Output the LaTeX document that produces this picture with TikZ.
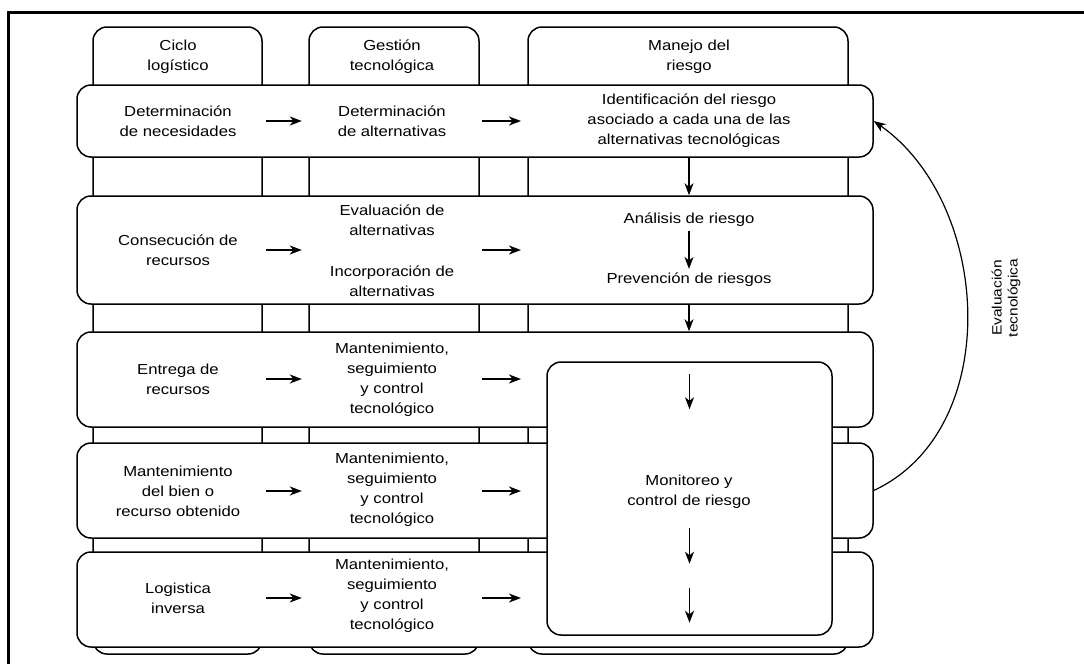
\documentclass[tikz,border=0pt]{standalone}
\usepackage{fontspec}
\setmainfont{Liberation Sans}[FakeStretch=1.15]
\usetikzlibrary{arrows.meta}
\tikzset{>={Stealth[length=12pt,width=9pt,inset=3.5pt]}}
\tikzset{
	colbox/.style={draw, line width=1.5pt, rounded corners=14pt, fill=white, inner sep=0pt},
	rowbox/.style={draw, line width=1.5pt, rounded corners=14pt, fill=white, inner sep=0pt},
	lbl/.style={align=center, inner sep=0pt, font=\fontsize{14.5}{20}\selectfont},
	flow/.style={->, line width=1.5pt}
}
\newcommand{\mant}{Mantenimiento,\\seguimiento\\y control\\tecnológico}

\begin{document}
\begin{tikzpicture}[x=1pt, y=-1pt]
	\useasboundingbox (0,0) rectangle (1084,664);
	\draw[line width=3pt] (1084,12) -- (8,12) -- (8,664);
	\node[colbox, minimum width=169, minimum height=627] (col1) at (177.5,340.5) {};
	\node[colbox, minimum width=170, minimum height=627] (col2) at (394,340.5) {};
	\node[colbox, minimum width=320, minimum height=627] (col3) at (688,340.5) {};
	\node[lbl] (h1) at (178,57) {Ciclo\\logístico};
	\node[lbl] (h2) at (392,57) {Gestión\\tecnológica};
	\node[lbl] (h3) at (689,57) {Manejo del\\riesgo};
	\node[rowbox, minimum width=796, minimum height=72] (row1) at (475,121) {};
	\node[rowbox, minimum width=796, minimum height=108] (row2) at (475,250) {};
	\node[rowbox, minimum width=796, minimum height=95] (row3) at (475,379.5) {};
	\node[rowbox, minimum width=796, minimum height=95] (row4) at (475,490.5) {};
	\node[rowbox, minimum width=796, minimum height=95] (row5) at (475,599.5) {};
	\node[colbox, minimum width=285, minimum height=273] (mon) at (689.5,498.5) {};
	\node[lbl, minimum width=176] (a1) at (178,121) {Determinación\\de necesidades};
	\node[lbl, minimum width=176] (a2) at (178,250) {Consecución de\\recursos};
	\node[lbl, minimum width=176] (a3) at (178,379) {Entrega de\\recursos};
	\node[lbl, minimum width=176] (a4) at (178,491) {Mantenimiento\\del bien o\\recurso obtenido};
	\node[lbl, minimum width=176] (a5) at (178,598) {Logistica\\inversa};
	\node[lbl, minimum width=180] (b1) at (392,121) {Determinación\\de alternativas};
	\node[lbl, minimum width=180] (b2) at (392,251) {Evaluación de\\alternativas\\[21pt]Incorporación de\\alternativas};
	\node[lbl, minimum width=180] (b3) at (392,380) {\mant};
	\node[lbl, minimum width=180] (b4) at (392,490) {\mant};
	\node[lbl, minimum width=180] (b5) at (392,596) {\mant};
	\node[lbl] (id) at (689,121) {Identificación del riesgo\\asociado a cada una de las\\alternativas tecnológicas};
	\node[lbl] (an) at (689,220) {Análisis de riesgo};
	\node[lbl] (pr) at (689,280) {Prevención de riesgos};
	\node[lbl] (mt) at (689,492) {Monitoreo y\\control de riesgo};
	\foreach \i in {1,...,5}{
		\draw[flow] (a\i.east) -- (a\i.east -| b\i.west);
		\coordinate (e\i) at (521,0 |- a\i.east);
		\draw[flow] (a\i.east -| b\i.east) -- (e\i);
	}
	\draw[flow] (row1.south -| id) -- (row2.north -| id);
	\draw[flow] ([yshift=-4pt]an.south) -- ([yshift=4pt]pr.north);
	\draw[flow] (row2.south -| id) -- (row3.north -| id);
	\draw[flow] ([yshift=-13pt]mon.north) -- ([yshift=-48pt]mon.north);
	\draw[flow] ([yshift=108pt]mon.south) -- ([yshift=72pt]mon.south);
	\draw[flow] ([yshift=48pt]mon.south) -- ([yshift=13pt]mon.south);
	\draw[->, line width=1.2pt] (row4.east) to[out=25, in=-35] (row1.east);
	\node[lbl, rotate=90, font=\fontsize{13.5}{16}\selectfont] (ev) at (1006,298) {Evaluación\\tecnológica};
\end{tikzpicture}
\end{document}
